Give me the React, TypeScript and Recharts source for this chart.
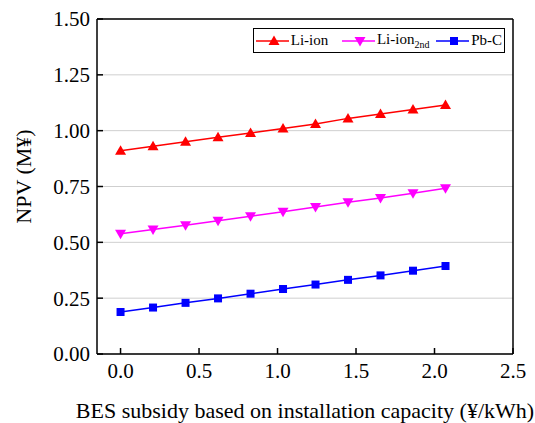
import React from 'react';
import { LineChart, Line, XAxis, YAxis, CartesianGrid, ReferenceLine } from 'recharts';

const subsidy = [0, 0.207, 0.414, 0.621, 0.828, 1.035, 1.242, 1.449, 1.656, 1.863, 2.07];
const liIon = [0.91, 0.93, 0.95, 0.97, 0.99, 1.01, 1.03, 1.055, 1.075, 1.095, 1.115];
const liIon2nd = [0.538, 0.557, 0.577, 0.597, 0.617, 0.637, 0.658, 0.679, 0.699, 0.72, 0.742];
const pbC = [0.188, 0.208, 0.229, 0.249, 0.27, 0.291, 0.311, 0.332, 0.352, 0.373, 0.394];
const xTicks = [0, 0.5, 1, 1.5, 2, 2.5];
const yTicks = [0, 0.25, 0.5, 0.75, 1, 1.25, 1.5];

const data = subsidy.map((x, i) => ({ x, liIon: liIon[i], liIon2nd: liIon2nd[i], pbC: pbC[i] }));

const FONT = "Liberation Serif, Times New Roman, Times, DejaVu Serif, serif";
const RED = '#ff0000';
const MAGENTA = '#ff00ff';
const BLUE = '#0000ff';

const TriUp = (props: any) => {
  const { cx, cy, fill, index } = props;
  return <path key={`u${index}`} d={`M${cx},${cy - 5.5}L${cx + 5.5},${cy + 4}L${cx - 5.5},${cy + 4}Z`} fill={fill} />;
};
const TriDown = (props: any) => {
  const { cx, cy, fill, index } = props;
  return <path key={`d${index}`} d={`M${cx},${cy + 5.5}L${cx + 5.5},${cy - 4}L${cx - 5.5},${cy - 4}Z`} fill={fill} />;
};
const Square = (props: any) => {
  const { cx, cy, fill, index } = props;
  return <rect key={`s${index}`} x={cx - 4} y={cy - 4} width={8} height={8} fill={fill} />;
};

const XTick = (props: any) => {
  const { x, y, payload } = props;
  return (
    <text x={x} y={y} dy="0.71em" textAnchor="middle" fill="#000" style={{ fontSize: 21, fontFamily: FONT }}>
      {Number(payload.value).toFixed(1)}
    </text>
  );
};
const YTick = (props: any) => {
  const { x, y, payload } = props;
  return (
    <text x={x} y={y} dy="0.355em" textAnchor="end" fill="#000" style={{ fontSize: 21, fontFamily: FONT }}>
      {Number(payload.value).toFixed(2)}
    </text>
  );
};

const LegendIcon = ({ color, shape }: { color: string; shape: string }) => (
  <svg width={36} height={12} style={{ display: 'block' }}>
    <line x1={0} y1={6} x2={36} y2={6} stroke={color} strokeWidth={1.5} />
    {shape === 'up' && <path d="M18,0.5L23.5,10L12.5,10Z" fill={color} />}
    {shape === 'down' && <path d="M18,11.5L23.5,2L12.5,2Z" fill={color} />}
    {shape === 'sq' && <rect x={14} y={2} width={8} height={8} fill={color} />}
  </svg>
);

const ChartLegend = () => (
  <div
    style={{
      position: 'absolute',
      left: 253,
      top: 28,
      width: 252,
      height: 25,
      boxSizing: 'border-box',
      border: '1px solid #000',
      background: '#fff',
      fontFamily: FONT,
      fontSize: 15,
      color: '#000',
      display: 'flex',
      alignItems: 'center',
      padding: '0 2px',
      whiteSpace: 'nowrap',
    }}
  >
    <LegendIcon color={RED} shape="up" />
    <span style={{ marginLeft: 2, marginRight: 14 }}>Li-ion</span>
    <LegendIcon color={MAGENTA} shape="down" />
    <span style={{ marginLeft: 2, marginRight: 7 }}>
      Li-ion<sub style={{ fontSize: 10 }}>2nd</sub>
    </span>
    <LegendIcon color={BLUE} shape="sq" />
    <span style={{ marginLeft: 2 }}>Pb-C</span>
  </div>
);

export default function App() {
  return (
    <div style={{ position: 'absolute', left: 0, top: 0, width: 535, height: 423, background: '#fff', fontFamily: FONT }}>
      <LineChart width={535} height={423} data={data} margin={{ top: 19, right: 22, bottom: 0, left: 0 }}>
        <CartesianGrid horizontal vertical={false} stroke="#cfcfcf" strokeWidth={1} />
        <XAxis
          dataKey="x"
          type="number"
          domain={[-0.15, 2.5]}
          ticks={xTicks}
          height={69}
          tickSize={-6}
          tickMargin={15}
          stroke="#000"
          strokeWidth={1.5}
          tick={<XTick />}
          label={(p: any) => {
            const vb = p.viewBox;
            return (
              <text x={vb.x + vb.width / 2} y={vb.y + 64} textAnchor="middle" fill="#000" style={{ fontSize: 22, fontFamily: FONT }}>
                BES subsidy based on installation capacity (¥/kWh)
              </text>
            );
          }}
        />
        <YAxis
          type="number"
          domain={[0, 1.5]}
          ticks={yTicks}
          width={97}
          tickSize={-6}
          tickMargin={13}
          stroke="#000"
          strokeWidth={1.5}
          tick={<YTick />}
          label={(p: any) => {
            const vb = p.viewBox;
            const cy = vb.y + vb.height / 2 - 10;
            return (
              <text x={23} y={cy} transform={`rotate(-90, 23, ${cy})`} textAnchor="middle" dominantBaseline="central" fill="#000" style={{ fontSize: 22, fontFamily: FONT }}>
                NPV (M¥)
              </text>
            );
          }}
        />
        <ReferenceLine y={1.5} stroke="#000" strokeWidth={1.5} />
        <ReferenceLine x={2.5} stroke="#000" strokeWidth={1.5} />
        <Line dataKey="liIon" stroke={RED} fill={RED} strokeWidth={1.5} dot={<TriUp />} isAnimationActive={false} />
        <Line dataKey="liIon2nd" stroke={MAGENTA} fill={MAGENTA} strokeWidth={1.5} dot={<TriDown />} isAnimationActive={false} />
        <Line dataKey="pbC" stroke={BLUE} fill={BLUE} strokeWidth={1.5} dot={<Square />} isAnimationActive={false} />
      </LineChart>
      <ChartLegend />
    </div>
  );
}
